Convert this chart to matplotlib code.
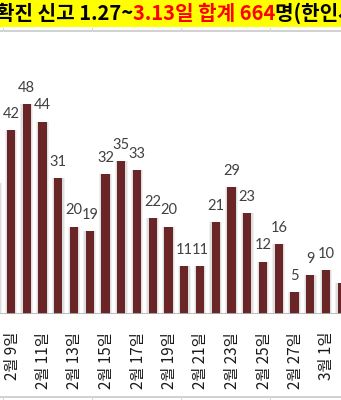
import matplotlib
matplotlib.use("Agg")
import matplotlib.pyplot as plt
import matplotlib.transforms as mtransforms
from matplotlib.lines import Line2D
from matplotlib.patches import Rectangle

# ------------------------------------------------------------
# data (2/8 .. 3/2, daily confirmed reports)
# ------------------------------------------------------------
dates = ['2월 8일', '2월 9일', '2월 10일', '2월 11일', '2월 12일', '2월 13일',
         '2월 14일', '2월 15일', '2월 16일', '2월 17일', '2월 18일', '2월 19일',
         '2월 20일', '2월 21일', '2월 22일', '2월 23일', '2월 24일', '2월 25일',
         '2월 26일', '2월 27일', '2월 28일', '3월 1일', '3월 2일']
cases = [30, 42, 48, 44, 31, 20, 19, 32, 35, 33, 22, 20,
         11, 11, 21, 29, 23, 12, 16, 5, 9, 10, 7]

title_pre = '확진 신고 1.27~'
title_red = '3.13일 합계 664'
title_post = '명(한인사회 포함)'

W, H = 341, 400
plt.rcParams['font.family'] = ['Noto Sans CJK KR', 'DejaVu Sans']

fig = plt.figure(figsize=(W / 100, H / 100), dpi=100)
fig.patch.set_facecolor('white')

# ------------------------------------------------------------
# title band
# ------------------------------------------------------------
fig.patches.append(Rectangle((0, 1 - 27 / H), 1, 27 / H, transform=fig.transFigure,
                             facecolor='#ffff00', edgecolor='none', zorder=0))
ty = 1 - 13.5 / H
t_red = fig.text(133 / W, ty, title_red, color='#ff0000', fontsize=14.5,
                 fontweight='bold', ha='left', va='center')
fig.canvas.draw()
bb = t_red.get_window_extent()
fig.text(bb.x0 / W, ty, title_pre, color='black', fontsize=14.5,
         fontweight='bold', ha='right', va='center')
fig.text(bb.x1 / W, ty, title_post, color='black', fontsize=14.5,
         fontweight='bold', ha='left', va='center')

# sheet lines (top and bottom) with small cell stubs
for yy, y0, y1 in [(31, 28, 31), (397, 397, 400)]:
    fig.add_artist(Line2D([0, 1], [1 - yy / H, 1 - yy / H], color='#c8c8c8',
                          linewidth=1.2, transform=fig.transFigure))
    for xs in [3, 92, 181, 270]:
        fig.add_artist(Line2D([xs / W, xs / W], [1 - y0 / H, 1 - y1 / H],
                              color='#d8d8d8', linewidth=0.8,
                              transform=fig.transFigure))

# ------------------------------------------------------------
# bars
# ------------------------------------------------------------
base_px = 314
top_px = 31
ppu = 4.375  # pixels per case
ax = fig.add_axes([0, 1 - base_px / H, 1, (base_px - top_px) / H])
ax.set_facecolor('none')
x = list(range(len(cases)))

ax.bar(x, cases, width=0.82, color='#efefef', zorder=1)
ax.bar(x, cases, width=0.68, color='#dedede', zorder=1)
ax.bar(x, cases, width=0.52, color='#6a2526', zorder=2)

for xi, v in zip(x, cases):
    ax.annotate(str(v), (xi, v), xytext=(0, 6.5), textcoords='offset points',
                ha='center', va='bottom', fontsize=10.5, color='#404040',
                family=['Lato', 'DejaVu Sans'])

x0 = 1 - 11 / 15.75
ax.set_xlim(x0, x0 + W / 15.75)
ax.set_ylim(0, (base_px - top_px) / ppu)
ax.axis('off')
ax.axhline(0, color='#b4b4b4', linewidth=1.2, zorder=3)

# date labels (every other day)
offs = mtransforms.ScaledTranslation(1 / 100, -18 / 100, fig.dpi_scale_trans)
for xi in x[1::2]:
    ax.text(xi, 0, dates[xi], rotation=90, ha='center', va='top',
            fontsize=11, color='#1a1a1a',
            transform=ax.transData + offs, clip_on=False)

fig.savefig('out.png', dpi=100)
